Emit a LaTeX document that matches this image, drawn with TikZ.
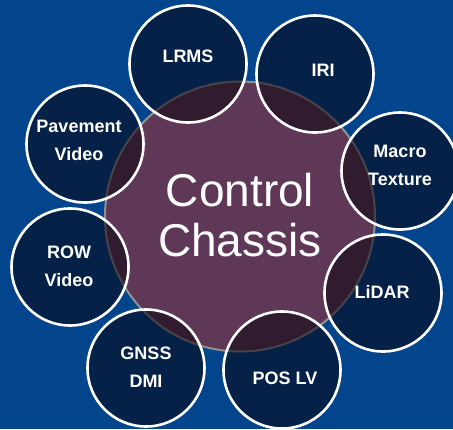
\documentclass[tikz,border=0pt]{standalone}
\usepackage{fontspec}
\setmainfont{Liberation Sans}
\definecolor{bgblue}{RGB}{3,69,140}
\definecolor{plum}{RGB}{95,56,88}
\definecolor{coregray}{RGB}{145,145,145}
\definecolor{satfill}{RGB}{10,4,15}
\begin{document}
\begin{tikzpicture}[x=1pt,y=-1pt,
  core/.style={circle, draw=coregray, line width=2pt, fill=plum,
    minimum size=270pt, inner sep=0pt},
  sat/.style={circle, draw=white, line width=2.6pt, fill=satfill,
    fill opacity=0.55, draw opacity=1, minimum size=117pt, inner sep=0pt},
  lbl/.style={text=white, font=\bfseries\fontsize{18}{28}\selectfont,
    align=center, inner sep=0pt},
  corelbl/.style={text=white, font=\fontsize{46}{50}\selectfont,
    align=center, inner sep=0pt}]
  % background
  \fill[bgblue] (0,0) rectangle (453,429);
  \useasboundingbox (0,0) rectangle (453,429);

  % central hub
  \node[core] (hub) at (240,216.5) {};
  \node[corelbl] (hubtext) at (240,215) {Control\\Chassis};

  % satellite circles
  \node[sat] (lrms) at (188,64) {};
  \node[sat] (iri) at (315,74) {};
  \node[sat] (macro) at (400,171) {};
  \node[sat] (lidar) at (383,293) {};
  \node[sat] (poslv) at (282,370) {};
  \node[sat] (gnss) at (146,368) {};
  \node[sat] (row) at (70,267) {};
  \node[sat] (pave) at (85,144) {};

  % satellite labels
  \node[lbl] (lrms-t) at (188,56) {LRMS};
  \node[lbl] (iri-t) at (323,70) {IRI};
  \node[lbl] (macro-t) at (400,165) {Macro\\Texture};
  \node[lbl] (lidar-t) at (382,292) {LiDAR};
  \node[lbl] (poslv-t) at (285,378) {POS LV};
  \node[lbl] (gnss-t) at (146,367) {GNSS\\DMI};
  \node[lbl] (row-t) at (69,266) {ROW\\Video};
  \node[lbl] (pave-t) at (79,140) {Pavement\\Video};
\end{tikzpicture}
\end{document}
